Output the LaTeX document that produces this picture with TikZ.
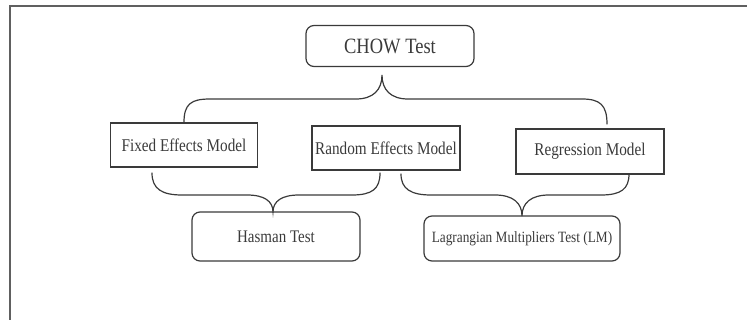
\documentclass[tikz,border=0pt]{standalone}
\usepackage{fontspec}
\setmainfont{Liberation Serif}
\usepackage{xcolor}
\usepackage{graphicx}
\usepackage{tikz}
\usetikzlibrary{positioning, calc}
\definecolor{inkgray}{HTML}{3A3A3A}
\newcommand{\tallword}[1]{\scalebox{1}[1.18]{#1}}

\begin{document}
\begin{tikzpicture}[x=1pt, y=-1pt,
  modelbox/.style={draw=inkgray, line width=1.3pt, minimum width=147pt, minimum height=44pt, inner sep=0pt, text=inkgray, font=\fontsize{15.2}{18}\selectfont},
  testbox/.style={modelbox, line width=1.2pt, rounded corners=8pt},
  bracepath/.style={draw=inkgray, line width=1.2pt, line cap=round}
]
\useasboundingbox (0,0) rectangle (747,320);
% outer frame (left and top only)
\draw[gray!75!black, line width=1.4pt] (10,320) -- (10,6) -- (747,6);
% tests and models
\node[testbox, minimum width=168pt, minimum height=41pt, font=\fontsize{18.5}{22}\selectfont] (chow) at (390,46) {\tallword{CHOW Test}};
\node[modelbox] (fixed) at (184,145) {\tallword{Fixed Effects Model}};
\node[modelbox, minimum width=148pt] (random) at (386,148) {\tallword{Random Effects Model}};
\node[modelbox, minimum width=148pt, minimum height=45pt] (regression) at (590,151.5) {\tallword{Regression Model}};
\node[testbox, minimum width=168pt, minimum height=49pt, font=\fontsize{15}{18}\selectfont] (hasman) at (276,236.5) {\tallword{Hasman Test}};
\node[testbox, minimum width=196pt, minimum height=45pt, font=\fontsize{13.3}{16}\selectfont] (lm) at (522,238.5) {\tallword{Lagrangian Multipliers Test (LM)}};
% brace ends and tips
\coordinate (chowTip) at (382,75);
\coordinate (regTop) at (607,124);
\coordinate (fixedLow) at (152,173);
\coordinate (randomLowL) at (380,173);
\coordinate (randomLowR) at (401,174);
\coordinate (regLow) at (629,174);
\coordinate (hasmanTip) at (273,212);
\coordinate (lmTip) at (522,216);
% top brace
\draw[bracepath] (fixed.north) .. controls (184,104) and (191,99) .. (210,99) -- (356,99)
  .. controls (373,99) and (382,90) .. (chowTip)
  .. controls (382,90) and (391,99) .. (408,99) -- (582,99)
  .. controls (600,99) and (607,105) .. (regTop);
% lower left brace
\draw[bracepath] (fixedLow) .. controls (152,189) and (162,195) .. (182,195) -- (247,195)
  .. controls (264,195) and (273,201) .. (hasmanTip)
  .. controls (273,201) and (282,195) .. (299,195) -- (352,195)
  .. controls (372,195) and (380,189) .. (randomLowL);
% lower right brace
\draw[bracepath] (randomLowR) .. controls (401,189) and (411,195) .. (431,195) -- (495,195)
  .. controls (513,195) and (522,203) .. (lmTip)
  .. controls (522,203) and (531,195) .. (549,195) -- (601,195)
  .. controls (621,195) and (629,189) .. (regLow);
\end{tikzpicture}
\end{document}
